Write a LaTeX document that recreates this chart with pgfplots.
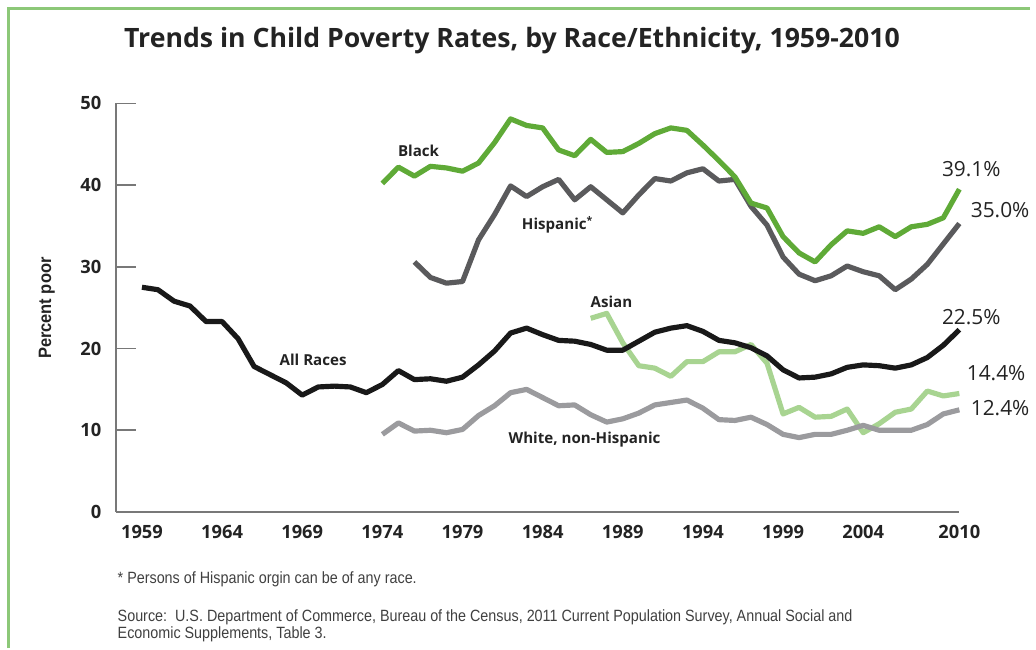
\documentclass[border=0pt]{standalone}
\usepackage{pgfplots}
\pgfplotsset{compat=1.18}
\usepackage{fontspec}
\setmainfont{Open Sans}
\newfontfamily\narrow[FakeStretch=0.88]{Liberation Sans}
\newfontfamily\narrowb[FakeStretch=0.92]{Liberation Sans}

\definecolor{frame}{RGB}{140,200,120}
\definecolor{cblack}{RGB}{95,170,55}
\definecolor{casian}{RGB}{168,212,145}
\definecolor{chisp}{RGB}{90,90,92}
\definecolor{cwhite}{RGB}{155,155,158}
\definecolor{call}{RGB}{25,25,25}
\definecolor{axisgray}{RGB}{120,120,120}
\definecolor{txt}{RGB}{35,35,35}

\pgfplotstableread{
year val
1959 27.5
1960 27.2
1961 25.8
1962 25.2
1963 23.3
1964 23.3
1965 21.2
1966 17.8
1967 16.8
1968 15.8
1969 14.3
1970 15.3
1971 15.4
1972 15.3
1973 14.6
1974 15.6
1975 17.3
1976 16.2
1977 16.3
1978 16.0
1979 16.5
1980 18.0
1981 19.7
1982 21.9
1983 22.5
1984 21.7
1985 21.0
1986 20.9
1987 20.5
1988 19.8
1989 19.8
1990 20.9
1991 22.0
1992 22.5
1993 22.8
1994 22.1
1995 21.0
1996 20.7
1997 20.1
1998 19.1
1999 17.4
2000 16.4
2001 16.5
2002 16.9
2003 17.7
2004 18.0
2005 17.9
2006 17.6
2007 18.0
2008 18.9
2009 20.4
2010 22.3
}\allraces

\pgfplotstableread{
year val
1974 40.2
1975 42.2
1976 41.1
1977 42.3
1978 42.1
1979 41.7
1980 42.7
1981 45.2
1982 48.1
1983 47.3
1984 47.0
1985 44.3
1986 43.6
1987 45.6
1988 44.0
1989 44.1
1990 45.1
1991 46.3
1992 47.0
1993 46.7
1994 44.9
1995 43.0
1996 41.0
1997 37.8
1998 37.2
1999 33.7
2000 31.7
2001 30.6
2002 32.7
2003 34.4
2004 34.1
2005 34.9
2006 33.7
2007 34.9
2008 35.2
2009 36.0
2010 39.5
}\black

\pgfplotstableread{
year val
1976 30.6
1977 28.7
1978 28.0
1979 28.2
1980 33.3
1981 36.4
1982 39.9
1983 38.6
1984 39.8
1985 40.7
1986 38.2
1987 39.8
1988 38.2
1989 36.6
1990 38.8
1991 40.8
1992 40.5
1993 41.5
1994 42.0
1995 40.5
1996 40.7
1997 37.4
1998 35.1
1999 31.2
2000 29.1
2001 28.3
2002 28.9
2003 30.1
2004 29.4
2005 28.9
2006 27.2
2007 28.5
2008 30.3
2009 32.8
2010 35.3
}\hispanic

\pgfplotstableread{
year val
1987 23.7
1988 24.3
1989 20.7
1990 17.9
1991 17.6
1992 16.6
1993 18.4
1994 18.4
1995 19.6
1996 19.6
1997 20.5
1998 18.2
1999 12.0
2000 12.8
2001 11.6
2002 11.7
2003 12.6
2004 9.7
2005 10.8
2006 12.2
2007 12.6
2008 14.8
2009 14.2
2010 14.5
}\asian

\pgfplotstableread{
year val
1974 9.5
1975 10.9
1976 9.9
1977 10.0
1978 9.7
1979 10.1
1980 11.8
1981 13.0
1982 14.6
1983 15.0
1984 14.0
1985 13.0
1986 13.1
1987 11.9
1988 11.0
1989 11.4
1990 12.1
1991 13.1
1992 13.4
1993 13.7
1994 12.7
1995 11.3
1996 11.2
1997 11.6
1998 10.7
1999 9.5
2000 9.1
2001 9.5
2002 9.5
2003 10.0
2004 10.6
2005 10.0
2006 10.0
2007 10.0
2008 10.7
2009 12.0
2010 12.5
}\white

\begin{document}
\begin{tikzpicture}[x=0.5pt,y=0.5pt]
% canvas, 1 px of the reference = 0.5pt
\path (0,0) rectangle (1036,652);
\draw[frame, line width=1.5pt] (9,0) -- (9,643) -- (1036,643);

\begin{axis}[
    at={(58.5pt,68.5pt)}, anchor=south west,
    scale only axis, width=424pt, height=205.5pt,
    xmin=1957.4, xmax=2010, ymin=0, ymax=50,
    axis x line=bottom, axis y line=left,
    axis line style={-, axisgray, line width=1pt},
    xtick={1959,1964,1969,1974,1979,1984,1989,1994,1999,2004,2010},
    minor xtick={1959,...,2010},
    ytick={0,10,...,50},
    tick align=inside,
    major tick length=10pt, minor tick length=4.5pt,
    xtick style={draw=none},
    ytick style={axisgray, line width=0.8pt},
    minor x tick style={axisgray, line width=0.7pt},
    ticklabel style={font=\bfseries\fontsize{9.2}{11}\selectfont, text=txt},
    x tick label style={/pgf/number format/.cd, 1000 sep={}, assume math mode=true, /tikz/yshift=-3pt},
    y tick label style={/pgf/number format/assume math mode=true, xshift=-4pt},
    clip=false,
    every axis plot/.append style={line width=2.6pt, line join=round, no marks},
]
\addplot[casian] table[x=year,y=val] {\asian};
\addplot[cwhite] table[x=year,y=val] {\white};
\addplot[chisp] table[x=year,y=val] {\hispanic};
\addplot[cblack] table[x=year,y=val] {\black};
\addplot[call] table[x=year,y=val] {\allraces};
\end{axis}

% title
\node[text=txt, font=\bfseries\fontsize{13.4}{16}\selectfont] at (515,611) {Trends in Child Poverty Rates, by Race/Ethnicity, 1959-2010};

% axis title
\node[rotate=90, text=txt, font=\narrowb\bfseries\fontsize{9}{11}\selectfont] at (47,342) {Percent poor};

% series labels
\begin{scope}[every node/.style={text=txt, font=\bfseries\fontsize{7.6}{9}\selectfont}]
\node at (421,500) {Black};
\node at (561,426) {Hispanic\textsuperscript{*}};
\node at (615,348) {Asian};
\node at (315,290) {All Races};
\node at (588,210) {White, non-Hispanic};
\end{scope}

% end values
\begin{scope}[every node/.style={text=txt, font=\fontsize{10.5}{12}\selectfont}]
\node at (977,482) {39.1\%};
\node at (1006,441) {35.0\%};
\node at (977,333) {22.5\%};
\node at (1002,277) {14.4\%};
\node at (1006,242) {12.4\%};
\end{scope}

% notes
\begin{scope}[every node/.style={anchor=base west, text={black!75}, inner sep=0pt, font=\narrow\fontsize{8.2}{10}\selectfont}]
\node at (118,65) {* Persons of Hispanic orgin can be of any race.};
\node at (118,27) {Source:\ \ U.S. Department of Commerce, Bureau of the Census, 2011 Current Population Survey, Annual Social and};
\node at (118,10) {Economic Supplements, Table 3.};
\end{scope}
\end{tikzpicture}
\end{document}
